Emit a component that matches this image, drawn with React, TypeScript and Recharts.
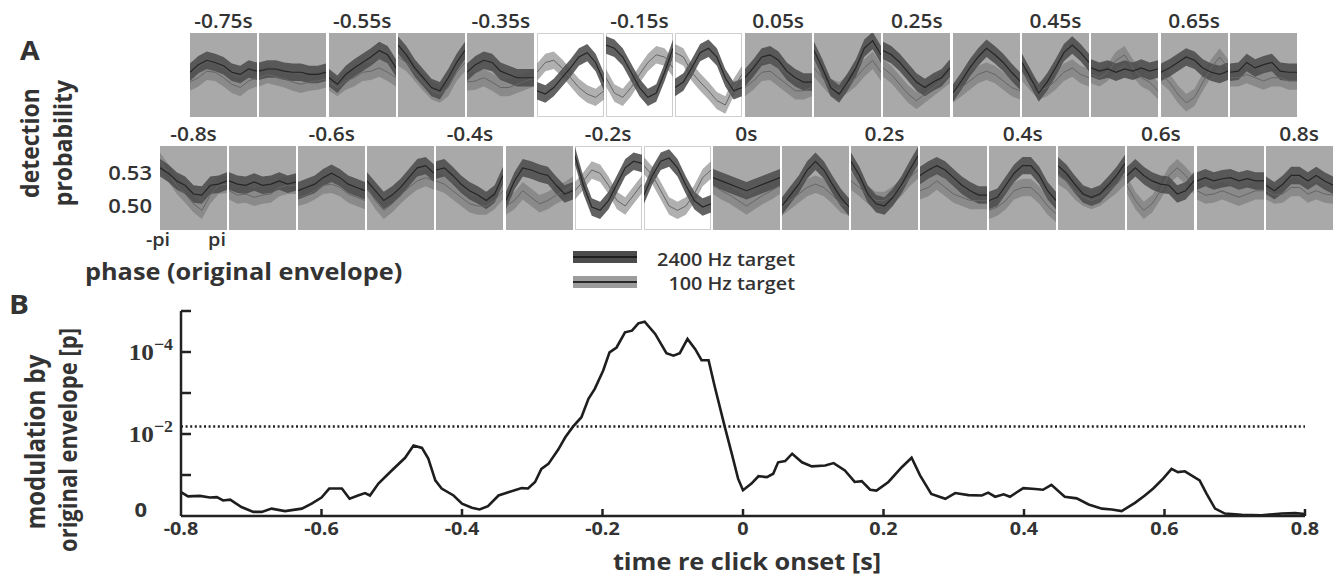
import React from 'react';
import { ComposedChart, Area, Line, XAxis, YAxis, LineChart, ReferenceLine } from 'recharts';

// ---------- Panel A data ----------
const PHASE = [-1, -0.75, -0.5, -0.25, 0, 0.25, 0.5, 0.75, 1]; // multiples of pi
const TOP_TIMES = [-0.75, -0.65, -0.55, -0.45, -0.35, -0.25, -0.15, -0.05, 0.05, 0.15, 0.25, 0.35, 0.45, 0.55, 0.65, 0.75];
const TOP_LABELS = ['-0.75s', '', '-0.55s', '', '-0.35s', '', '-0.15s', '', '0.05s', '', '0.25s', '', '0.45s', '', '0.65s', ''];
const BOTTOM_TIMES = [-0.8, -0.7, -0.6, -0.5, -0.4, -0.3, -0.2, -0.1, 0, 0.1, 0.2, 0.3, 0.4, 0.5, 0.6, 0.7, 0.8];
const BOTTOM_LABELS = ['-0.8s', '', '-0.6s', '', '-0.4s', '', '-0.2s', '', '0s', '', '0.2s', '', '0.4s', '', '0.6s', '', '0.8s'];
const TOP_SIGNIFICANT = [-0.25, -0.15, -0.05];
const BOTTOM_SIGNIFICANT = [-0.2, -0.1];
const SEM_2400 = 0.008;
const SEM_100 = 0.008;
const PROB_TICKS = ['0.53', '0.50'];
const PROB_DOMAIN = [0.478, 0.555];

const TOP_2400 = [
  [0.519, 0.526, 0.530, 0.528, 0.525, 0.519, 0.517, 0.522, 0.520],
  [0.520, 0.522, 0.522, 0.520, 0.519, 0.519, 0.517, 0.517, 0.519],
  [0.514, 0.508, 0.517, 0.523, 0.528, 0.533, 0.539, 0.535, 0.523],
  [0.544, 0.535, 0.523, 0.514, 0.505, 0.502, 0.514, 0.528, 0.539],
  [0.519, 0.526, 0.530, 0.528, 0.520, 0.517, 0.514, 0.514, 0.514],
  [0.502, 0.499, 0.505, 0.514, 0.523, 0.533, 0.537, 0.528, 0.510],
  [0.544, 0.541, 0.533, 0.519, 0.505, 0.496, 0.500, 0.519, 0.541],
  [0.505, 0.510, 0.523, 0.537, 0.541, 0.533, 0.514, 0.502, 0.505],
  [0.514, 0.523, 0.533, 0.535, 0.530, 0.520, 0.514, 0.510, 0.510],
  [0.539, 0.523, 0.505, 0.499, 0.510, 0.523, 0.541, 0.548, 0.535],
  [0.539, 0.535, 0.528, 0.519, 0.510, 0.505, 0.510, 0.514, 0.523],
  [0.500, 0.511, 0.523, 0.533, 0.541, 0.535, 0.528, 0.519, 0.511],
  [0.528, 0.514, 0.500, 0.510, 0.523, 0.537, 0.544, 0.537, 0.528],
  [0.523, 0.520, 0.522, 0.519, 0.522, 0.520, 0.523, 0.520, 0.522],
  [0.519, 0.523, 0.528, 0.533, 0.530, 0.523, 0.519, 0.517, 0.520],
  [0.519, 0.520, 0.528, 0.523, 0.526, 0.528, 0.520, 0.519, 0.519],
];
const TOP_100 = [
  [0.510, 0.514, 0.520, 0.519, 0.514, 0.508, 0.505, 0.511, 0.514],
  [0.514, 0.517, 0.515, 0.513, 0.510, 0.508, 0.510, 0.511, 0.513],
  [0.510, 0.505, 0.511, 0.514, 0.519, 0.520, 0.523, 0.519, 0.514],
  [0.533, 0.528, 0.519, 0.510, 0.502, 0.499, 0.505, 0.519, 0.528],
  [0.510, 0.511, 0.514, 0.510, 0.505, 0.505, 0.508, 0.511, 0.514],
  [0.519, 0.528, 0.530, 0.523, 0.514, 0.505, 0.499, 0.496, 0.502],
  [0.514, 0.500, 0.496, 0.505, 0.517, 0.528, 0.535, 0.533, 0.523],
  [0.537, 0.533, 0.519, 0.510, 0.502, 0.493, 0.489, 0.505, 0.517],
  [0.505, 0.511, 0.519, 0.520, 0.514, 0.508, 0.502, 0.502, 0.505],
  [0.523, 0.514, 0.505, 0.502, 0.508, 0.514, 0.523, 0.530, 0.519],
  [0.523, 0.517, 0.508, 0.499, 0.493, 0.499, 0.505, 0.511, 0.517],
  [0.499, 0.505, 0.511, 0.517, 0.520, 0.517, 0.511, 0.505, 0.502],
  [0.519, 0.510, 0.502, 0.505, 0.511, 0.519, 0.523, 0.517, 0.514],
  [0.517, 0.514, 0.519, 0.530, 0.535, 0.523, 0.514, 0.510, 0.502],
  [0.517, 0.510, 0.499, 0.491, 0.496, 0.510, 0.523, 0.533, 0.523],
  [0.514, 0.514, 0.517, 0.514, 0.511, 0.514, 0.514, 0.511, 0.511],
];
const BOTTOM_2400 = [
  [0.535, 0.530, 0.523, 0.519, 0.511, 0.510, 0.519, 0.520, 0.523],
  [0.523, 0.520, 0.519, 0.522, 0.519, 0.520, 0.523, 0.520, 0.522],
  [0.514, 0.517, 0.520, 0.526, 0.530, 0.526, 0.520, 0.517, 0.514],
  [0.523, 0.514, 0.505, 0.510, 0.517, 0.526, 0.535, 0.537, 0.530],
  [0.533, 0.535, 0.528, 0.520, 0.514, 0.510, 0.505, 0.511, 0.528],
  [0.505, 0.523, 0.535, 0.533, 0.530, 0.528, 0.519, 0.511, 0.514],
  [0.546, 0.519, 0.499, 0.496, 0.505, 0.520, 0.535, 0.541, 0.539],
  [0.510, 0.528, 0.541, 0.544, 0.535, 0.519, 0.505, 0.499, 0.502],
  [0.526, 0.523, 0.520, 0.517, 0.514, 0.517, 0.520, 0.523, 0.526],
  [0.500, 0.510, 0.520, 0.533, 0.541, 0.533, 0.520, 0.508, 0.499],
  [0.541, 0.528, 0.511, 0.502, 0.500, 0.508, 0.519, 0.533, 0.546],
  [0.528, 0.533, 0.537, 0.533, 0.526, 0.519, 0.514, 0.510, 0.510],
  [0.505, 0.508, 0.519, 0.530, 0.537, 0.537, 0.528, 0.514, 0.505],
  [0.537, 0.530, 0.520, 0.511, 0.508, 0.511, 0.519, 0.528, 0.539],
  [0.528, 0.535, 0.528, 0.523, 0.520, 0.519, 0.511, 0.514, 0.523],
  [0.523, 0.526, 0.523, 0.525, 0.526, 0.523, 0.525, 0.523, 0.523],
  [0.519, 0.514, 0.520, 0.528, 0.528, 0.523, 0.528, 0.523, 0.519],
];
const BOTTOM_100 = [
  [0.541, 0.530, 0.519, 0.511, 0.502, 0.496, 0.510, 0.519, 0.520],
  [0.514, 0.510, 0.511, 0.508, 0.510, 0.511, 0.517, 0.519, 0.519],
  [0.508, 0.510, 0.514, 0.519, 0.520, 0.517, 0.511, 0.508, 0.505],
  [0.517, 0.505, 0.496, 0.502, 0.510, 0.517, 0.523, 0.526, 0.523],
  [0.523, 0.520, 0.514, 0.508, 0.502, 0.500, 0.500, 0.505, 0.514],
  [0.500, 0.505, 0.514, 0.508, 0.502, 0.505, 0.510, 0.514, 0.519],
  [0.514, 0.523, 0.533, 0.530, 0.519, 0.505, 0.500, 0.510, 0.520],
  [0.537, 0.528, 0.514, 0.500, 0.496, 0.500, 0.511, 0.526, 0.533],
  [0.519, 0.514, 0.510, 0.505, 0.500, 0.505, 0.510, 0.514, 0.519],
  [0.499, 0.505, 0.511, 0.517, 0.520, 0.517, 0.510, 0.502, 0.499],
  [0.523, 0.517, 0.510, 0.505, 0.505, 0.510, 0.517, 0.526, 0.533],
  [0.514, 0.517, 0.523, 0.517, 0.511, 0.508, 0.505, 0.505, 0.505],
  [0.496, 0.499, 0.505, 0.514, 0.517, 0.517, 0.510, 0.500, 0.493],
  [0.528, 0.523, 0.514, 0.508, 0.505, 0.508, 0.514, 0.520, 0.528],
  [0.519, 0.505, 0.496, 0.502, 0.514, 0.528, 0.535, 0.528, 0.519],
  [0.514, 0.510, 0.511, 0.514, 0.511, 0.508, 0.511, 0.514, 0.514],
  [0.514, 0.510, 0.511, 0.517, 0.517, 0.511, 0.514, 0.511, 0.510],
];

// ---------- Panel B data ----------
const TIME_B = [
  -0.8, -0.79, -0.773, -0.759, -0.749, -0.74, -0.73, -0.714, -0.697, -0.685, -0.671, -0.652, -0.628, -0.614,
  -0.6, -0.589, -0.571, -0.56, -0.548, -0.538, -0.531, -0.519, -0.5, -0.481, -0.469, -0.457, -0.448, -0.438,
  -0.429, -0.412, -0.4, -0.386, -0.375, -0.363, -0.348, -0.334, -0.315, -0.306, -0.296, -0.287, -0.277, -0.263,
  -0.253, -0.242, -0.23, -0.22, -0.211, -0.199, -0.19, -0.18, -0.168, -0.158, -0.149, -0.14, -0.125, -0.109,
  -0.099, -0.09, -0.079, -0.068, -0.059, -0.049, -0.04, -0.026, -0.016, -0.007, 0, 0.012, 0.022, 0.034, 0.043,
  0.05, 0.06, 0.07, 0.084, 0.098, 0.117, 0.129, 0.145, 0.159, 0.169, 0.181, 0.19, 0.207, 0.226, 0.24, 0.252,
  0.268, 0.288, 0.302, 0.321, 0.34, 0.349, 0.359, 0.371, 0.38, 0.399, 0.416, 0.427, 0.439, 0.458, 0.475, 0.492,
  0.511, 0.525, 0.539, 0.558, 0.572, 0.584, 0.598, 0.61, 0.619, 0.629, 0.65, 0.66, 0.672, 0.686, 0.71, 0.738,
  0.767, 0.786, 0.8,
];
// -log10(p)
const NEG_LOG_P = [
  0.58, 0.48, 0.49, 0.45, 0.46, 0.38, 0.4, 0.22, 0.1, 0.1, 0.18, 0.12, 0.18, 0.3,
  0.45, 0.67, 0.67, 0.42, 0.5, 0.56, 0.5, 0.79, 1.11, 1.42, 1.72, 1.66, 1.4, 0.87,
  0.67, 0.5, 0.3, 0.2, 0.16, 0.24, 0.5, 0.58, 0.68, 0.67, 0.83, 1.15, 1.27, 1.62,
  1.92, 2.18, 2.41, 2.86, 3.1, 3.55, 3.99, 4.11, 4.48, 4.52, 4.7, 4.74, 4.44, 3.97,
  3.91, 3.97, 4.32, 4.07, 3.8, 3.8, 3.14, 2.18, 1.52, 0.91, 0.63, 0.79, 0.97, 0.95, 1.03,
  1.31, 1.34, 1.52, 1.31, 1.21, 1.23, 1.29, 1.11, 0.83, 0.85, 0.64, 0.62, 0.83, 1.19, 1.42, 0.99,
  0.54, 0.42, 0.56, 0.51, 0.5, 0.57, 0.47, 0.53, 0.47, 0.68, 0.66, 0.64, 0.76, 0.47, 0.43, 0.28,
  0.18, 0.16, 0.12, 0.32, 0.5, 0.67, 0.91, 1.15, 1.07, 1.09, 0.87, 0.54, 0.18, 0.06, 0.03, 0.02,
  0.06, 0.07, 0.05,
];
const THRESHOLD = 2.18;
const P_TICKS = [0, 1, 2, 3, 4, 5];
const P_TICK_EXP: Record<number, string> = { 2: '2', 4: '4' };
const TIME_TICKS = [-0.8, -0.6, -0.4, -0.2, 0, 0.2, 0.4, 0.6, 0.8];

const FONT = '"Open Sans", sans-serif';
const TXT = '#333';
const SX = 1.1; // horizontal stretch of the lettering

// ---------- layout ----------
const TOP_X0 = 190, TOP_PITCH = 69.33, TOP_Y = 33;
const BOT_X0 = 160, BOT_PITCH = 69.1, BOT_Y = 146;
const PW = 67, PH = 84;

function T({ x, y, anchor = 'start', size, weight = 700, rot = 0, children }: any) {
  const tr = rot ? `translate(${x},${y}) rotate(${rot}) scale(1,${SX})` : `translate(${x},${y}) scale(${SX},1)`;
  return (
    <text transform={tr} textAnchor={anchor} fontFamily={FONT} fontSize={size} fontWeight={weight} fill={TXT}>
      {children}
    </text>
  );
}

function PhasePanel({ dark, light, sig }: { dark: number[]; light: number[]; sig: boolean }) {
  const data = PHASE.map((ph, i) => ({
    ph,
    d: dark[i],
    l: light[i],
    dr: [dark[i] - SEM_2400, dark[i] + SEM_2400],
    lr: [light[i] - SEM_100, light[i] + SEM_100],
  }));
  return (
    <div
      style={{
        width: PW,
        height: PH,
        background: sig ? '#ffffff' : '#a9a9a9',
        outline: sig ? '1px solid #cfcfcf' : 'none',
        outlineOffset: -1,
      }}
    >
      <ComposedChart width={PW} height={PH} data={data} margin={{ top: 0, right: 0, bottom: 0, left: 0 }}>
        <XAxis dataKey="ph" type="number" domain={[-1, 1]} hide />
        <YAxis type="number" domain={PROB_DOMAIN} hide allowDataOverflow />
        <Area dataKey="lr" type="linear" stroke="none" fill="#737373" fillOpacity={0.56} isAnimationActive={false} />
        <Line dataKey="l" type="linear" stroke="#666" strokeWidth={1} dot={false} isAnimationActive={false} />
        <Area dataKey="dr" type="linear" stroke="none" fill="#4c4c4c" fillOpacity={0.88} isAnimationActive={false} />
        <Line dataKey="d" type="linear" stroke="#262626" strokeWidth={1.2} dot={false} isAnimationActive={false} />
      </ComposedChart>
    </div>
  );
}

const XTick = (props: any) => {
  const { x, y, payload } = props;
  const v = payload.value as number;
  const label = v === 0 ? '0' : v.toFixed(1);
  return (
    <g>
      {v > -0.79 && <line x1={x} x2={x} y1={y} y2={y - 7} stroke="#222" strokeWidth={2.5} />}
      <T x={x} y={y + 19} anchor="middle" size={18}>{label}</T>
    </g>
  );
};

const YTick = (props: any) => {
  const { x, y, payload } = props;
  const v = payload.value as number;
  const exp = P_TICK_EXP[v];
  return (
    <g>
      {v > 0 && <line x1={x} x2={x + 10} y1={y} y2={y} stroke="#222" strokeWidth={2.5} />}
      {v === 0 && <T x={x - 34} y={y + 1} anchor="end" size={20}>0</T>}
      {exp && (
        <text
          transform={`translate(${x - 8},${y + 8}) scale(1.05,1)`}
          textAnchor="end"
          fontFamily='"Liberation Serif", serif'
          fontWeight="bold"
          fontSize={24}
          fill={TXT}
        >
          10
          <tspan dy={-10} fontSize={17}>{'\u2212' + exp}</tspan>
        </text>
      )}
    </g>
  );
};

export default function App() {
  const bData = TIME_B.map((t, i) => ({ t, v: NEG_LOG_P[i] }));
  return (
    <div style={{ position: 'absolute', left: 0, top: 0, width: 1337, height: 581, background: '#fff', overflow: 'hidden' }}>
      {TOP_TIMES.map((t, i) => (
        <div key={'t' + i} style={{ position: 'absolute', left: TOP_X0 + i * TOP_PITCH, top: TOP_Y }}>
          <PhasePanel dark={TOP_2400[i]} light={TOP_100[i]} sig={TOP_SIGNIFICANT.includes(t)} />
        </div>
      ))}
      {BOTTOM_TIMES.map((t, i) => (
        <div key={'b' + i} style={{ position: 'absolute', left: BOT_X0 + i * BOT_PITCH, top: BOT_Y }}>
          <PhasePanel dark={BOTTOM_2400[i]} light={BOTTOM_100[i]} sig={BOTTOM_SIGNIFICANT.includes(t)} />
        </div>
      ))}

      <div style={{ position: 'absolute', left: 0, top: 290 }}>
        <LineChart width={1337} height={291} data={bData} margin={{ top: 21, right: 32, left: 0, bottom: 0 }}>
          <XAxis
            dataKey="t"
            type="number"
            domain={[-0.8, 0.8]}
            ticks={TIME_TICKS}
            interval={0}
            height={65}
            axisLine={{ stroke: '#222', strokeWidth: 2.5 }}
            tickLine={false}
            tickSize={0}
            tickMargin={0}
            tick={<XTick />}
          />
          <YAxis
            type="number"
            domain={[0, 5]}
            ticks={P_TICKS}
            interval={0}
            width={181}
            axisLine={{ stroke: '#222', strokeWidth: 2.5 }}
            tickLine={false}
            tickSize={0}
            tickMargin={0}
            tick={<YTick />}
          />
          <ReferenceLine y={THRESHOLD} stroke="#222" strokeWidth={2.5} strokeDasharray="2 2.6" />
          <Line dataKey="v" type="linear" stroke="#1e1e1e" strokeWidth={2.6} dot={false} isAnimationActive={false} />
        </LineChart>
      </div>

      <svg width={1337} height={581} style={{ position: 'absolute', left: 0, top: 0, pointerEvents: 'none' }}>
        <T x={20} y={60} size={26}>A</T>
        <T x={9} y={314} size={27}>B</T>
        {TOP_LABELS.map((lab, i) =>
          lab ? (
            <T key={'tl' + i} x={TOP_X0 + i * TOP_PITCH + PW / 2} y={28} anchor="middle" size={19} weight={600}>
              {lab}
            </T>
          ) : null
        )}
        {BOTTOM_LABELS.map((lab, i) =>
          lab ? (
            <T key={'bl' + i} x={BOT_X0 + i * BOT_PITCH + PW / 2} y={141} anchor="middle" size={19} weight={600}>
              {lab}
            </T>
          ) : null
        )}
        <T x={152} y={180} anchor="end" size={20} weight={600}>{PROB_TICKS[0]}</T>
        <T x={152} y={213} anchor="end" size={20} weight={600}>{PROB_TICKS[1]}</T>
        <T x={158} y={246} anchor="middle" size={18} weight={600}>-pi</T>
        <T x={217} y={246} anchor="middle" size={18} weight={600}>pi</T>
        <T x={39} y={143} anchor="middle" size={23} rot={-90}>detection</T>
        <T x={72} y={143} anchor="middle" size={23} rot={-90}>probability</T>
        <T x={85} y={280} size={23}>phase (original envelope)</T>

        <rect x={573} y={251} width={64} height={12} fill="#4c4c4c" />
        <line x1={573} x2={637} y1={257} y2={257} stroke="#1e1e1e" strokeWidth={2} />
        <rect x={573} y={276} width={64} height={12} fill="#9c9c9c" />
        <line x1={573} x2={637} y1={282} y2={282} stroke="#2a2a2a" strokeWidth={2} />
        <T x={795} y={266} anchor="end" size={18} weight={600}>2400 Hz target</T>
        <T x={795} y={290} anchor="end" size={18} weight={600}>100 Hz target</T>

        <T x={45} y={442} anchor="middle" size={24} rot={-90}>modulation by</T>
        <T x={77} y={440} anchor="middle" size={22} rot={-90}>original envelope [p]</T>
        <T x={747} y={570} anchor="middle" size={23}>time re click onset [s]</T>
      </svg>
    </div>
  );
}
